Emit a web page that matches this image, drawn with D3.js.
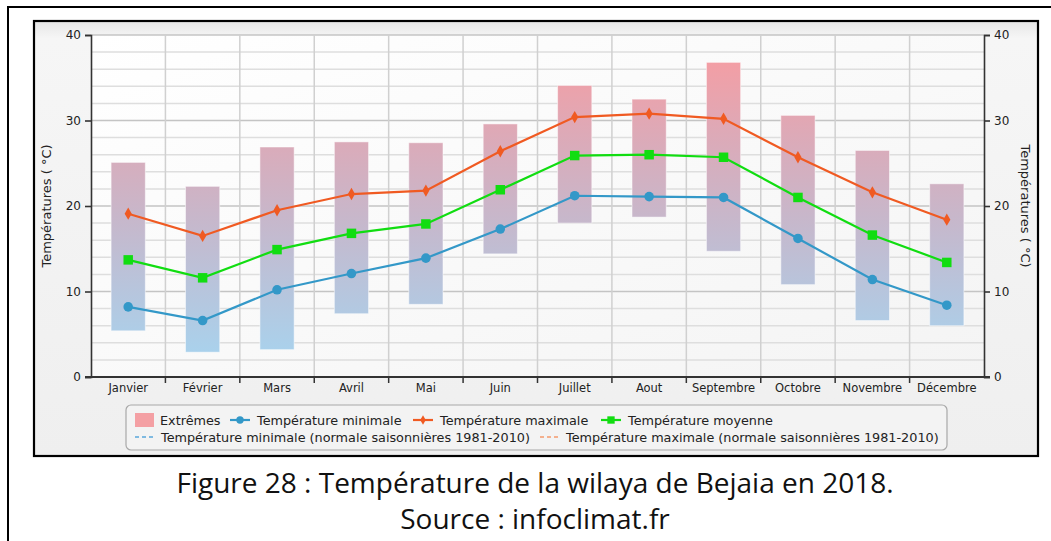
<!DOCTYPE html>
<html>
<head>
<meta charset="utf-8">
<script src="https://cdn.jsdelivr.net/npm/d3@7"></script>
<style>
  body { margin: 0; background: #fff; }
  svg { display: block; }
  .axis text { font-family: 'DejaVu Sans', sans-serif; font-size: 11px; fill: #222; }
  .legend text { font-family: 'DejaVu Sans', sans-serif; font-size: 12.8px; fill: #222; }
  .caption { font-family: 'Open Sans', sans-serif; font-size: 28px; fill: #111; }
</style>
</head>
<body>
<svg id="chart"></svg>
<script>
// Values (°C)
const months = ['Janvier', 'Février', 'Mars', 'Avril', 'Mai', 'Juin', 'Juillet', 'Aout',
  'Septembre', 'Octobre', 'Novembre', 'Décembre'];
const extremeLow = [5.4, 2.9, 3.2, 7.4, 8.5, 14.4, 18.0, 18.7, 14.7, 10.8, 6.6, 6.0];
const extremeHigh = [25.1, 22.3, 26.9, 27.5, 27.4, 29.6, 34.1, 32.5, 36.8, 30.6, 26.5, 22.6];
const tempMin = [8.2, 6.6, 10.2, 12.1, 13.9, 17.3, 21.2, 21.1, 21.0, 16.2, 11.4, 8.4];
const tempMax = [19.1, 16.5, 19.5, 21.4, 21.8, 26.4, 30.4, 30.8, 30.2, 25.7, 21.6, 18.4];
const tempMean = [13.7, 11.6, 14.9, 16.8, 17.9, 21.9, 25.9, 26.0, 25.7, 21.0, 16.6, 13.4];
const yTicks = [0, 10, 20, 30, 40];
const yTitle = 'Températures ( °C)';
const captionLines = ['Figure 28 : Température de la wilaya de Bejaia en 2018.', 'Source : infoclimat.fr'];

const data = months.map((m, i) => ({
  month: m, low: extremeLow[i], high: extremeHigh[i],
  min: tempMin[i], max: tempMax[i], mean: tempMean[i]
}));

const width = 1051, height = 541;
const plot = { left: 91, right: 984, top: 35, bottom: 377 };

const svg = d3.select('#chart').attr('width', width).attr('height', height);
const defs = svg.append('defs');

// outer figure border (left + top only are visible)
svg.append('path')
  .attr('d', `M8,${height} L8,7 L${width},7`)
  .attr('fill', 'none').attr('stroke', '#000').attr('stroke-width', 2);

// chart panel
const panelGrad = defs.append('linearGradient').attr('id', 'panelGrad')
  .attr('x1', 0).attr('y1', 0).attr('x2', 0).attr('y2', 1);
panelGrad.append('stop').attr('offset', 0).attr('stop-color', '#e6e6e6');
panelGrad.append('stop').attr('offset', 0.04).attr('stop-color', '#f6f6f6');
panelGrad.append('stop').attr('offset', 1).attr('stop-color', '#efefef');
svg.append('rect')
  .attr('x', 34).attr('y', 21).attr('width', 1004).attr('height', 435)
  .attr('fill', 'url(#panelGrad)').attr('stroke', '#000').attr('stroke-width', 2.2);

const x = d3.scaleBand().domain(months).range([plot.left, plot.right]);
const y = d3.scaleLinear().domain([0, 40]).range([plot.bottom, plot.top]);

// plot background
const plotGrad = defs.append('linearGradient').attr('id', 'plotGrad')
  .attr('x1', 0).attr('y1', 0).attr('x2', 1).attr('y2', 1);
plotGrad.append('stop').attr('offset', 0).attr('stop-color', '#ffffff');
plotGrad.append('stop').attr('offset', 1).attr('stop-color', '#f4f4f4');
svg.append('rect')
  .attr('x', plot.left).attr('y', plot.top)
  .attr('width', plot.right - plot.left).attr('height', plot.bottom - plot.top)
  .attr('fill', 'url(#plotGrad)');

// horizontal grid every 2 degrees, darker at the labelled ticks
const grid = svg.append('g');
grid.selectAll('line.h')
  .data(d3.range(2, 41, 2))
  .join('line')
  .attr('x1', plot.left).attr('x2', plot.right)
  .attr('y1', d => y(d)).attr('y2', d => y(d))
  .attr('stroke', d => d % 10 === 0 ? '#c4c4c4' : '#dedede')
  .attr('stroke-width', 1.5);
grid.selectAll('line.v')
  .data(months.slice(1))
  .join('line')
  .attr('x1', d => x(d)).attr('x2', d => x(d))
  .attr('y1', plot.top).attr('y2', plot.bottom)
  .attr('stroke', '#d0d0d0').attr('stroke-width', 1.5);

// extremes bars with a temperature-based gradient
const barGrad = defs.append('linearGradient').attr('id', 'barGrad')
  .attr('gradientUnits', 'userSpaceOnUse')
  .attr('x1', 0).attr('x2', 0).attr('y1', y(0)).attr('y2', y(40));
barGrad.append('stop').attr('offset', 0).attr('stop-color', '#a4d6f2');
barGrad.append('stop').attr('offset', 0.45).attr('stop-color', '#c6b8cc');
barGrad.append('stop').attr('offset', 0.7).attr('stop-color', '#dcaab8');
barGrad.append('stop').attr('offset', 1).attr('stop-color', '#fb9a9e');

const barW = x.bandwidth() * 0.46;
svg.append('g').selectAll('rect')
  .data(data)
  .join('rect')
  .attr('x', d => x(d.month) + (x.bandwidth() - barW) / 2)
  .attr('width', barW)
  .attr('y', d => y(d.high))
  .attr('height', d => y(d.low) - y(d.high))
  .attr('fill', 'url(#barGrad)')
  .attr('stroke', '#ffffff').attr('stroke-opacity', 0.5).attr('stroke-width', 1);

// axes
const yAxisL = d3.axisLeft(y).tickValues(yTicks).tickSize(6).tickPadding(4);
const yAxisR = d3.axisRight(y).tickValues(yTicks).tickSize(6).tickPadding(4);
const xAxis = d3.axisBottom(x).tickSize(0).tickPadding(7);

const axisStyle = g => {
  g.selectAll('.domain, .tick line').attr('stroke', '#333').attr('stroke-width', 1.6);
  g.attr('font-family', null).attr('font-size', null);
};

svg.append('g').attr('class', 'axis')
  .attr('transform', `translate(${plot.left},0)`)
  .call(yAxisL).call(axisStyle)
  .selectAll('text').style('font-size', '12px');
svg.append('g').attr('class', 'axis')
  .attr('transform', `translate(${plot.right},0)`)
  .call(yAxisR).call(axisStyle)
  .selectAll('text').style('font-size', '12px');

const xAxisG = svg.append('g').attr('class', 'axis')
  .attr('transform', `translate(0,${plot.bottom})`)
  .call(xAxis).call(axisStyle);
xAxisG.select('.domain').remove();
xAxisG.selectAll('.tick text').style('font-size', '11.5px');
xAxisG.append('line')
  .attr('x1', plot.left - 6).attr('x2', plot.right + 6)
  .attr('stroke', '#333').attr('stroke-width', 1.8);
xAxisG.selectAll('line.sep')
  .data(months.slice(1))
  .join('line')
  .attr('class', 'sep')
  .attr('x1', d => x(d)).attr('x2', d => x(d))
  .attr('y1', 0).attr('y2', 6)
  .attr('stroke', '#333').attr('stroke-width', 1.5);

// axis titles
svg.append('text')
  .attr('transform', `translate(51,${(plot.top + plot.bottom) / 2}) rotate(-90)`)
  .attr('text-anchor', 'middle')
  .style('font-family', 'DejaVu Sans, sans-serif').style('font-size', '13px').style('fill', '#222')
  .text(yTitle);
svg.append('text')
  .attr('transform', `translate(1021,${(plot.top + plot.bottom) / 2}) rotate(90)`)
  .attr('text-anchor', 'middle')
  .style('font-family', 'DejaVu Sans, sans-serif').style('font-size', '13px').style('fill', '#222')
  .text(yTitle);

// series lines
const cx = d => x(d.month) + x.bandwidth() / 2;
const series = [
  { key: 'min', color: '#3398c8', shape: d3.symbolCircle, size: 72 },
  { key: 'max', color: '#f05a22', shape: d3.symbolDiamond, size: 44 },
  { key: 'mean', color: '#11dd11', shape: d3.symbolSquare, size: 90 }
];

series.forEach(s => {
  const line = d3.line().x(cx).y(d => y(d[s.key]));
  svg.append('path')
    .datum(data)
    .attr('d', line)
    .attr('fill', 'none')
    .attr('stroke', s.color)
    .attr('stroke-width', 2.2);
  svg.append('g').selectAll('path')
    .data(data)
    .join('path')
    .attr('transform', d => `translate(${cx(d)},${y(d[s.key])})`)
    .attr('d', d3.symbol(s.shape, s.size))
    .attr('fill', s.color);
});

// legend
const legend = svg.append('g').attr('class', 'legend');
legend.append('rect')
  .attr('x', 126).attr('y', 405).attr('width', 821).attr('height', 45)
  .attr('rx', 5)
  .attr('fill', '#f3f3f3').attr('stroke', '#a8a8a8').attr('stroke-width', 1.2);

const row1 = 420, row2 = 437;
legend.append('rect')
  .attr('x', 135).attr('y', row1 - 7).attr('width', 19).attr('height', 14)
  .attr('fill', '#f4a0a4');
legend.append('text').attr('x', 160).attr('y', row1 + 4.5).text('Extrêmes');

const legendItems = [
  { x: 230, text: 'Température minimale', s: series[0] },
  { x: 413, text: 'Température maximale', s: series[1] },
  { x: 601, text: 'Température moyenne', s: series[2] }
];
legendItems.forEach(it => {
  legend.append('line')
    .attr('x1', it.x).attr('x2', it.x + 20)
    .attr('y1', row1).attr('y2', row1)
    .attr('stroke', it.s.color).attr('stroke-width', 2.2);
  legend.append('path')
    .attr('transform', `translate(${it.x + 10},${row1})`)
    .attr('d', d3.symbol(it.s.shape, it.s.size * 0.6))
    .attr('fill', it.s.color);
  legend.append('text').attr('x', it.x + 27).attr('y', row1 + 4.5).text(it.text);
});

const dashedItems = [
  { x: 135, color: '#5aa8dc', text: 'Température minimale (normale saisonnières 1981-2010)' },
  { x: 540, color: '#f59a6e', text: 'Température maximale (normale saisonnières 1981-2010)' }
];
dashedItems.forEach(it => {
  legend.append('line')
    .attr('x1', it.x).attr('x2', it.x + 20)
    .attr('y1', row2).attr('y2', row2)
    .attr('stroke', it.color).attr('stroke-width', 1.4)
    .attr('stroke-dasharray', '4,3');
  legend.append('text').attr('x', it.x + 26).attr('y', row2 + 4.5).text(it.text);
});

// caption below the chart
svg.selectAll('text.caption')
  .data(captionLines)
  .join('text')
  .attr('class', 'caption')
  .attr('x', 535)
  .attr('y', (d, i) => 493 + i * 36)
  .attr('text-anchor', 'middle')
  .text(d => d);
</script>
</body>
</html>
